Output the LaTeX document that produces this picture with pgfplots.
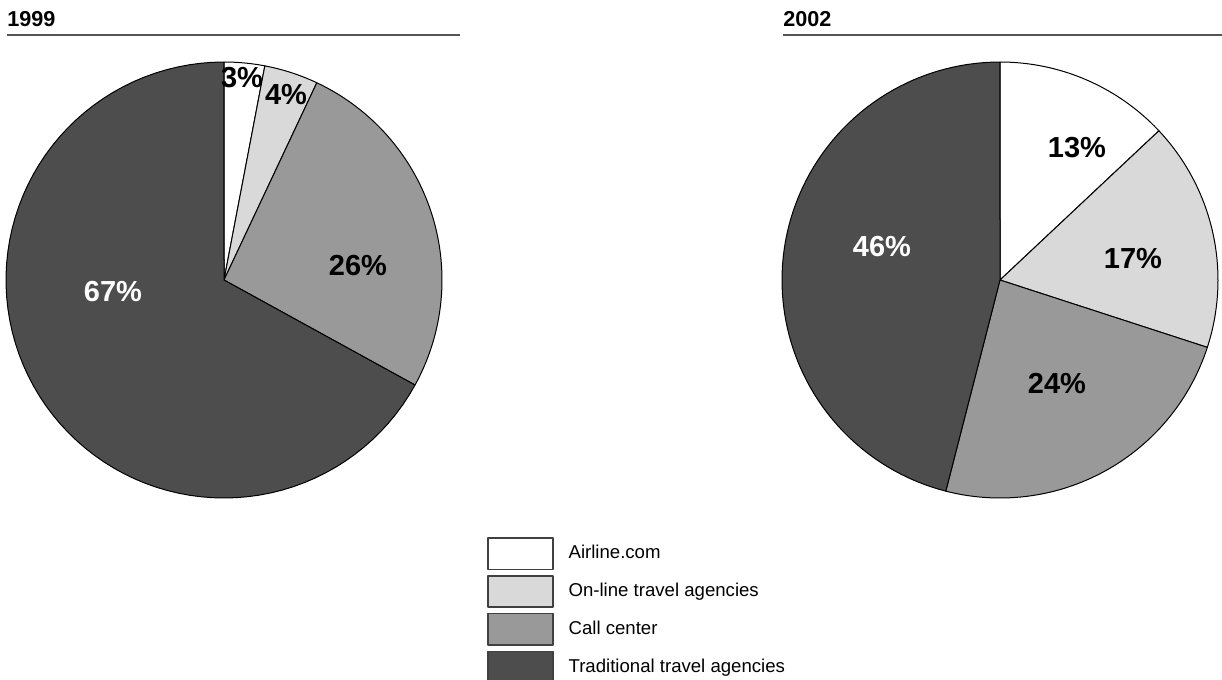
\documentclass[border=0pt]{standalone}
\usepackage{fontspec}
\setmainfont{Liberation Sans}
\usepackage{pgfplots}
\pgfplotsset{compat=1.18}
\definecolor{cLight}{HTML}{D9D9D9}
\definecolor{cMid}{HTML}{999999}
\definecolor{cDark}{HTML}{4D4D4D}
\definecolor{cRule}{HTML}{555555}
% #1 cx, #2 cy, #3 start (%), #4 value (%), #5 fill, #6 extra
\newcommand{\pieslice}[6]{%
  \addplot[fill=#5, draw=black, line width=0.5pt, line join=round, domain={#3*3.6}:{(#3+#4)*3.6}, samples=80, variable=\t, #6]
    ({#1+218*sin(\t)},{#2-218*cos(\t)}) -- (axis cs:#1,#2) -- cycle;
}
\begin{document}
\begin{tikzpicture}
\begin{axis}[
  width=611pt, height=340pt, scale only axis,
  xmin=0, xmax=1222, ymin=0, ymax=680, y dir=reverse,
  axis lines=none, clip=false,
  legend style={at={(axis cs:487,537)}, anchor=north west, draw=none, fill=none,
    inner sep=0pt, row sep=2.6pt, font=\fontsize{9.3}{11}\selectfont,
    nodes={inner sep=0pt, anchor=west},
    /tikz/column 2/.style={column sep=0pt}},
  legend cell align=left,
  legend image code/.code={\draw[#1, draw=black!75, line width=0.7pt] (0pt,-7.8pt) rectangle (32.5pt,7.8pt); \path (40pt,0pt);},
]
\path (axis cs:0,0) rectangle (axis cs:1222,680);
% 1999
\pieslice{224}{280}{0}{3}{white}{}
\addlegendentry{Airline.com}
\pieslice{224}{280}{3}{4}{cLight}{}
\addlegendentry{On-line travel agencies}
\pieslice{224}{280}{7}{26}{cMid}{}
\addlegendentry{Call center}
\pieslice{224}{280}{33}{67}{cDark}{}
\addlegendentry{Traditional travel agencies}
% 2002
\pieslice{1000}{280}{0}{13}{white}{forget plot}
\pieslice{1000}{280}{13}{17}{cLight}{forget plot}
\pieslice{1000}{280}{30}{24}{cMid}{forget plot}
\pieslice{1000}{280}{54}{46}{cDark}{forget plot}

% titles and rules
\node[anchor=base west, inner sep=0pt, font=\bfseries\fontsize{10.8}{12}\selectfont] at (axis cs:7,26) {1999};
\node[anchor=base west, inner sep=0pt, font=\bfseries\fontsize{10.8}{12}\selectfont] at (axis cs:783,26) {2002};
\draw[cRule, line width=0.75pt] (axis cs:7,35) -- (axis cs:460,35);
\draw[cRule, line width=0.75pt] (axis cs:783,35) -- (axis cs:1222,35);

% labels
\begin{scope}[every node/.style={font=\bfseries\fontsize{14.5}{16}\selectfont, inner sep=0pt}]
\node at (axis cs:242,78) {3\%};
\node at (axis cs:286,95) {4\%};
\node at (axis cs:358,266) {26\%};
\node[text=white] at (axis cs:113,292) {67\%};
\node at (axis cs:1077,148) {13\%};
\node at (axis cs:1133,259) {17\%};
\node at (axis cs:1057,383) {24\%};
\node[text=white] at (axis cs:882,247) {46\%};
\end{scope}
\end{axis}
\pgfresetboundingbox
\path (current axis.south west) rectangle (current axis.north east);
\end{tikzpicture}
\end{document}
